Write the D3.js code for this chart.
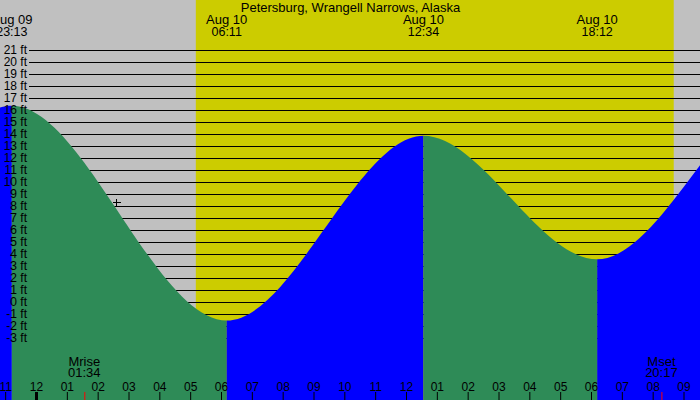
<!DOCTYPE html>
<html>
<head>
<meta charset="utf-8">
<script src="https://cdn.jsdelivr.net/npm/d3@7"></script>
<style>
  body { margin: 0; background: #fff; }
  text { font-family: "Liberation Sans", Arial, sans-serif; }
</style>
</head>
<body>
<div id="chart"></div>
<script>
let title = 'Petersburg, Wrangell Narrows, Alaska';

// tide extremes (the first two and last two lie off the chart, estimated)
let tideTimes = [
    new Date(2024, 7, 9, 10, 40),
    new Date(2024, 7, 9, 16, 55),
    new Date(2024, 7, 9, 23, 13),
    new Date(2024, 7, 10, 6, 11),
    new Date(2024, 7, 10, 12, 34),
    new Date(2024, 7, 10, 18, 12),
    new Date(2024, 7, 11, 0, 30),
    new Date(2024, 7, 11, 7, 10)
];
let tideHeights = [14.5, 2.5, 16.4, -1.5, 13.9, 3.6, 18.0, -2.0];

let sunTimes = [new Date(2024, 7, 10, 5, 11), new Date(2024, 7, 10, 20, 41)];

let moonNames = ['Mrise', 'Mset'];
let moonTimes = [new Date(2024, 7, 10, 1, 34), new Date(2024, 7, 10, 20, 17)];

let depthTicks = [21, 20, 19, 18, 17, 16, 15, 14, 13, 12, 11, 10, 9, 8, 7, 6, 5, 4, 3, 2, 1, 0, -1, -2, -3];

// current tide marker
let markTime = new Date(2024, 7, 10, 2, 35);
let markHeight = 8.4;

const width = 700;
const height = 400;

let svg = d3.select('#chart').append('svg')
    .attr('width', width)
    .attr('height', height)
    .style('display', 'block');

let x = d3.scaleTime()
    .domain([new Date(2024, 7, 10, 0, 0), new Date(2024, 7, 10, 12, 0)])
    .range([36, 406]);

let y = d3.scaleLinear()
    .domain([0, 21])
    .range([302.5, 50.5]);

// background: night grey, daylight yellow
svg.append('rect')
    .attr('width', width).attr('height', height)
    .attr('fill', '#c0c0c0');

svg.append('rect')
    .attr('x', x(sunTimes[0]))
    .attr('width', x(sunTimes[1]) - x(sunTimes[0]))
    .attr('height', height)
    .attr('fill', '#cccc00');

// depth grid lines
svg.append('g').selectAll('line').data(depthTicks).enter()
    .append('line')
        .attr('x1', 29).attr('x2', width)
        .attr('y1', d => y(d)).attr('y2', d => y(d))
        .attr('stroke', '#000')
        .attr('shape-rendering', 'crispEdges');

// tide fill, green while falling and blue while rising
let tides = tideTimes.map((t, i) => ({ time: t, height: tideHeights[i] }));

let area = d3.area()
    .x(d => x(d.time))
    .y0(height)
    .y1(d => y(d.height))
    .curve(d3.curveMonotoneX);

let defs = svg.append('defs');
for (let i = 0; i < tides.length - 1; i++) {
    let a = tides[i], b = tides[i + 1];
    defs.append('clipPath').attr('id', 'seg' + i)
        .append('rect')
            .attr('x', x(a.time))
            .attr('y', 0)
            .attr('width', x(b.time) - x(a.time))
            .attr('height', height);

    svg.append('path')
        .datum(tides)
        .attr('d', area)
        .attr('clip-path', 'url(#seg' + i + ')')
        .attr('fill', b.height > a.height ? '#0000ff' : '#2e8b57');
}

// depth labels
svg.append('g').selectAll('text').data(depthTicks).enter()
    .append('text')
        .attr('x', 27)
        .attr('y', d => y(d) + 3.5)
        .attr('text-anchor', 'end')
        .attr('font-size', 12)
        .text(d => d + ' ft');

// title
svg.append('text')
    .attr('x', 350.5).attr('y', 12)
    .attr('text-anchor', 'middle')
    .attr('font-size', 13)
    .text(title);

// tide time labels at top
let shown = tides.filter(d => x(d.time) > -30 && x(d.time) < width + 30);
let tideLabels = svg.append('g').selectAll('g').data(shown).enter()
    .append('g')
        .attr('transform', d => `translate(${x(d.time)},0)`);
tideLabels.append('text')
    .attr('y', 24).attr('text-anchor', 'middle').attr('font-size', 13)
    .text(d => d3.timeFormat('%b %d')(d.time));
tideLabels.append('text')
    .attr('y', 36).attr('text-anchor', 'middle').attr('font-size', 12.5)
    .text(d => d3.timeFormat('%H:%M')(d.time));

// moon rise / set
let moon = svg.append('g').selectAll('g').data(moonTimes).enter()
    .append('g')
        .attr('transform', d => `translate(${x(d)},0)`);
moon.append('text')
    .attr('y', 366).attr('text-anchor', 'middle').attr('font-size', 13)
    .text((d, i) => moonNames[i]);
moon.append('text')
    .attr('y', 377).attr('text-anchor', 'middle').attr('font-size', 13)
    .text(d => d3.timeFormat('%H:%M')(d));

// hour axis, labels above the ticks
let hours = d3.timeHour.range(x.invert(0), x.invert(width));
let xAxis = d3.axisTop(x)
    .tickValues(hours)
    .tickSize(8)
    .tickPadding(1.5)
    .tickFormat(d3.timeFormat('%I'));

let xAxisGroup = svg.append('g')
    .attr('transform', `translate(0,${height})`)
    .call(xAxis);
xAxisGroup.select('.domain').remove();
xAxisGroup.selectAll('text')
    .attr('font-family', '"Liberation Sans", Arial, sans-serif')
    .attr('font-size', 12);
xAxisGroup.selectAll('.tick')
    .filter(d => d.getHours() === 0)
    .select('line')
        .attr('stroke-width', 3);

svg.append('g').selectAll('line').data(moonTimes).enter()
    .append('line')
        .attr('x1', d => x(d) + 0.5).attr('x2', d => x(d) + 0.5)
        .attr('y1', 392).attr('y2', height)
        .attr('stroke', '#ff0000');

// crosshair for the current tide
let mx = Math.round(x(markTime)) + 0.5, my = Math.round(y(markHeight)) + 0.5;
svg.append('path')
    .attr('d', `M${mx - 4},${my}H${mx + 4}M${mx},${my - 4}V${my + 4}`)
    .attr('stroke', '#000')
    .attr('shape-rendering', 'crispEdges');
</script>
</body>
</html>
